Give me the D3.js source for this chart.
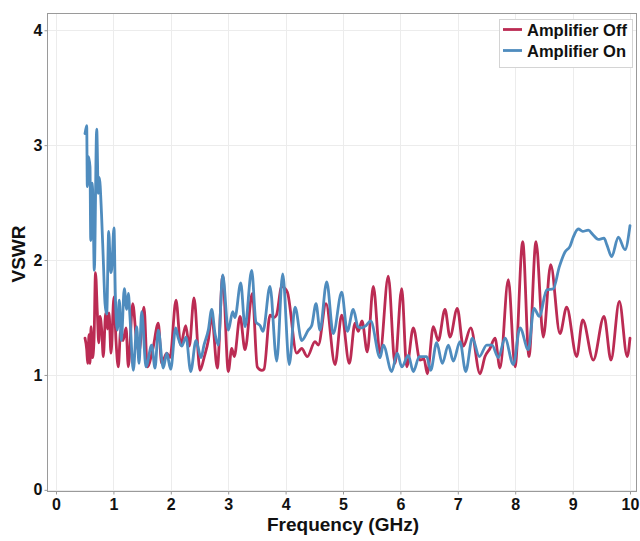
<!DOCTYPE html>
<html>
<head>
<meta charset="utf-8">
<script src="https://cdn.jsdelivr.net/npm/d3@7"></script>
<style>
  html, body { margin: 0; padding: 0; background: #fff; }
  svg { display: block; font-family: "Liberation Sans", Arial, sans-serif; font-weight: bold; }
</style>
</head>
<body>
<svg id="chart" width="640" height="541"></svg>
<script>
// VSWR vs frequency, amplifier off / on
const xTicks = [0, 1, 2, 3, 4, 5, 6, 7, 8, 9, 10];
const yTicks = [0, 1, 2, 3, 4];
const seriesNames = ["Amplifier Off", "Amplifier On"];
const seriesColors = ["#bb2b53", "#4f8cbe"];

// Amplifier Off: frequency (GHz)
const offFreq = [0.505,0.535,0.552,0.575,0.592,0.610,0.636,0.662,0.688,0.720,0.744,0.767,0.796,0.824,0.866,0.897,0.923,0.958,1.010,1.045,1.085,1.127,1.167,1.220,1.260,1.336,1.406,1.446,1.533,1.591,1.685,1.782,1.841,1.929,1.986,2.091,2.172,2.260,2.322,2.404,2.509,2.584,2.653,2.713,2.810,2.904,3.002,3.061,3.106,3.206,3.293,3.420,3.507,3.584,3.624,3.728,3.798,3.841,3.932,4.030,4.193,4.280,4.378,4.512,4.570,4.704,4.861,4.977,5.110,5.209,5.267,5.331,5.423,5.528,5.645,5.789,5.906,6.023,6.110,6.225,6.341,6.411,6.469,6.573,6.660,6.777,6.864,6.991,7.096,7.225,7.387,7.474,7.561,7.648,7.735,7.880,7.997,8.131,8.240,8.362,8.490,8.618,8.780,8.897,9.071,9.176,9.361,9.547,9.669,9.814,9.951,10.000];
// Amplifier Off: VSWR
const offVswr = [1.32,1.22,1.10,1.35,1.10,1.42,1.15,1.30,1.89,1.54,1.28,1.51,1.39,1.16,1.54,1.40,1.54,1.19,1.68,1.30,1.07,1.39,1.30,1.41,1.07,1.62,1.28,1.20,1.59,1.07,1.22,1.45,1.10,1.19,1.15,1.65,1.26,1.43,1.25,1.67,1.04,1.16,1.30,1.51,1.06,1.86,1.03,1.23,1.16,1.51,1.22,1.71,1.07,1.04,1.05,1.52,1.50,1.52,1.77,1.72,1.19,1.23,1.16,1.29,1.26,1.62,1.09,1.52,1.10,1.45,1.38,1.47,1.20,1.77,1.19,1.86,1.10,1.75,1.07,1.41,1.13,1.14,1.01,1.42,1.30,1.57,1.33,1.58,1.25,1.41,1.01,1.16,1.23,1.32,1.06,1.83,1.07,2.16,1.16,2.16,1.33,1.96,1.36,1.59,1.16,1.48,1.13,1.51,1.13,1.64,1.16,1.32];

// Amplifier On: frequency (GHz)
const onFreq = [0.505,0.535,0.545,0.566,0.592,0.605,0.632,0.648,0.667,0.709,0.737,0.754,0.793,0.824,0.854,0.883,0.918,0.953,0.970,1.010,1.033,1.068,1.103,1.138,1.190,1.232,1.260,1.289,1.347,1.406,1.446,1.493,1.568,1.667,1.725,1.782,1.869,1.929,1.998,2.085,2.125,2.190,2.265,2.347,2.439,2.526,2.578,2.653,2.713,2.770,2.828,2.904,3.002,3.078,3.118,3.218,3.293,3.409,3.484,3.554,3.606,3.728,3.845,3.949,4.064,4.164,4.280,4.395,4.455,4.530,4.599,4.716,4.831,4.977,5.075,5.179,5.261,5.326,5.401,5.483,5.645,5.702,5.848,5.946,6.023,6.138,6.225,6.329,6.458,6.528,6.632,6.730,6.835,6.922,7.038,7.138,7.253,7.375,7.503,7.596,7.706,7.822,7.967,8.084,8.228,8.328,8.420,8.549,8.664,8.768,8.868,8.955,9.012,9.099,9.176,9.274,9.355,9.448,9.547,9.599,9.681,9.796,9.913,10.000];
// Amplifier On: VSWR
const onVswr = [3.10,3.17,2.64,2.90,2.81,2.17,2.67,2.40,1.91,3.14,2.58,2.72,2.40,2.00,1.62,1.53,2.25,1.89,1.92,2.28,1.71,1.39,1.65,1.30,1.75,1.57,1.71,1.50,1.04,1.42,1.10,1.55,1.07,1.26,1.06,1.39,1.06,1.19,1.05,1.41,1.33,1.25,1.33,1.03,1.30,1.15,1.26,1.39,1.57,1.36,1.26,1.87,1.39,1.55,1.50,1.80,1.42,1.91,1.46,1.43,1.38,1.77,1.12,1.88,1.09,1.59,1.30,1.39,1.43,1.62,1.39,1.81,1.36,1.72,1.38,1.57,1.42,1.41,1.43,1.47,1.15,1.26,1.03,1.19,1.07,1.17,1.03,1.16,1.16,1.04,1.28,1.10,1.26,1.12,1.29,1.03,1.32,1.16,1.26,1.26,1.15,1.32,1.09,1.41,1.22,1.58,1.51,1.74,1.75,1.94,2.07,2.12,2.20,2.27,2.25,2.26,2.22,2.18,2.19,2.13,2.03,2.20,2.09,2.30];

const svg = d3.select("#chart");
const frame = { left: 47, right: 637, top: 13, bottom: 491 };

const x = d3.scaleLinear().domain([-0.157, 10.122]).range([frame.left, frame.right]);
const y = d3.scaleLinear().domain([-0.01, 4.15]).range([frame.bottom, frame.top]);

// grid
const grid = svg.append("g").attr("stroke", "#ececec").attr("stroke-width", 1);
grid.selectAll("line.gx").data(xTicks).join("line")
  .attr("x1", d => Math.round(x(d)) + 0.5).attr("x2", d => Math.round(x(d)) + 0.5)
  .attr("y1", frame.top).attr("y2", frame.bottom);
grid.selectAll("line.gy").data(yTicks).join("line")
  .attr("y1", d => Math.round(y(d)) + 0.5).attr("y2", d => Math.round(y(d)) + 0.5)
  .attr("x1", frame.left).attr("x2", frame.right);

// series
const line = d3.line().x(d => x(d[0])).y(d => y(d[1])).curve(d3.curveMonotoneX);
const series = [
  d3.zip(offFreq, offVswr),
  d3.zip(onFreq, onVswr)
];
svg.append("g").selectAll("path").data(series).join("path")
  .attr("d", line)
  .attr("fill", "none")
  .attr("stroke", (d, i) => seriesColors[i])
  .attr("stroke-width", 2.8)
  .attr("stroke-linejoin", "round")
  .attr("stroke-linecap", "round");

// frame
svg.append("rect")
  .attr("x", frame.left + 0.5).attr("y", frame.top + 0.5)
  .attr("width", frame.right - frame.left - 1).attr("height", frame.bottom - frame.top)
  .attr("fill", "none").attr("stroke", "#9a9a9a").attr("stroke-width", 1);

// axes
const xAxis = d3.axisBottom(x).tickValues(xTicks).tickSize(3).tickPadding(4).tickFormat(d3.format("d"));
const yAxis = d3.axisLeft(y).tickValues(yTicks).tickSize(3).tickPadding(2).tickFormat(d3.format("d"));

const gx = svg.append("g").attr("transform", `translate(0,${frame.bottom + 0.5})`).call(xAxis);
const gy = svg.append("g").attr("transform", `translate(${frame.left + 0.5},0)`).call(yAxis);
[gx, gy].forEach(g => {
  g.select(".domain").remove();
  g.selectAll(".tick line").attr("stroke", "#9a9a9a");
  g.selectAll(".tick text").attr("fill", "#111").style("font-size", "16px").style("font-weight", "bold")
    .style("font-family", '"Liberation Sans", Arial, sans-serif');
});

// axis titles
svg.append("text")
  .attr("x", 343).attr("y", 531)
  .attr("text-anchor", "middle").attr("fill", "#111")
  .style("font-size", "19px").text("Frequency (GHz)");
svg.append("text")
  .attr("transform", `translate(25,${(frame.top + frame.bottom) / 2 + 2}) rotate(-90)`)
  .attr("text-anchor", "middle").attr("fill", "#111")
  .style("font-size", "19px").text("VSWR");

// legend
const lg = svg.append("g").attr("transform", "translate(499,19)");
lg.append("rect").attr("x", 0.5).attr("y", 0.5).attr("width", 133).attr("height", 48)
  .attr("fill", "#fff").attr("stroke", "#d4d4d4");
seriesNames.forEach((name, i) => {
  const cy = 10.5 + i * 21;
  lg.append("line").attr("x1", 4).attr("x2", 23).attr("y1", cy).attr("y2", cy)
    .attr("stroke", seriesColors[i]).attr("stroke-width", 2.8);
  lg.append("text").attr("x", 28).attr("y", cy + 6).attr("fill", "#111")
    .style("font-size", "16.5px").text(name);
});
</script>
</body>
</html>
